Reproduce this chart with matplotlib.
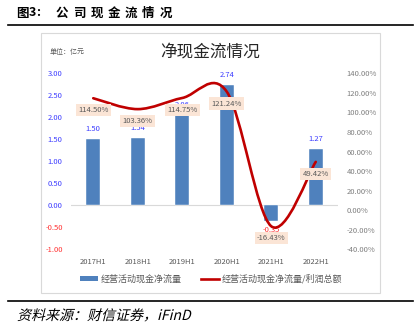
import matplotlib
matplotlib.use("Agg")
import matplotlib.pyplot as plt
from matplotlib.path import Path
from matplotlib.patches import PathPatch, Rectangle, Patch
from matplotlib.lines import Line2D
from matplotlib.textpath import TextPath
from matplotlib.font_manager import FontProperties
from matplotlib.transforms import Affine2D, IdentityTransform

plt.rcParams["font.family"] = ["Noto Sans CJK SC", "DejaVu Sans"]

periods = ["2017H1", "2018H1", "2019H1", "2020H1", "2021H1", "2022H1"]
cash_flow = [1.50, 1.54, 2.06, 2.74, -0.35, 1.27]          # 亿元
ratio_pct = [114.50, 103.36, 114.75, 121.24, -16.43, 49.42]  # %
left_ticks = [-1.0, -0.5, 0.0, 0.5, 1.0, 1.5, 2.0, 2.5, 3.0]
right_ticks = [-40, -20, 0, 20, 40, 60, 80, 100, 120, 140]

W, H = 418, 336
fig = plt.figure(figsize=(W / 100, H / 100), dpi=100)
fig.patch.set_facecolor("white")

# page title with wide letter spacing
for ch, x in zip(["图", "3", ":"], [22.5, 32.5, 38.5]):
    fig.text(x / W, 1 - 13 / H, ch, ha="center", va="center", fontsize=9,
             fontweight="bold", color="black")
for i, ch in enumerate("公司现金流情况"):
    fig.text((62 + i * 17.3) / W, 1 - 13 / H, ch, ha="center", va="center",
             fontsize=9, fontweight="bold", color="black")
fig.add_artist(Line2D([8 / W, 413 / W], [1 - 25 / H, 1 - 25 / H],
                      transform=fig.transFigure, color="black", lw=1.2))
fig.add_artist(Line2D([8 / W, 413 / W], [1 - 300.5 / H, 1 - 300.5 / H],
                      transform=fig.transFigure, color="black", lw=1.2))

# source note, slanted
tp = TextPath((0, 0), "资料来源：财信证券，iFinD", size=14,
              prop=FontProperties(family="Noto Sans CJK SC"))
tr = Affine2D().skew_deg(14, 0).translate(17, H - 320)
fig.add_artist(PathPatch(tr.transform_path(tp), transform=IdentityTransform(),
                         facecolor="black", edgecolor="none"))

# chart frame
fig.add_artist(Rectangle((40.7 / W, 1 - 293 / H), (380 - 40.7) / W, (293 - 33) / H,
                         transform=fig.transFigure, fill=False,
                         edgecolor="#D9D9D9", lw=0.8))
fig.text(210 / W, 1 - 52 / H, "净现金流情况", ha="center", va="center",
         fontsize=12, color="#262626")
fig.text(50 / W, 1 - 52 / H, "单位：亿元", ha="left", va="center",
         fontsize=5, color="#595959")

ax = fig.add_axes([71 / W, 1 - 249.3 / H, (338 - 71) / W, (249.3 - 73.3) / H])
ax2 = ax.twinx()
for a in (ax, ax2):
    for s in a.spines.values():
        s.set_visible(False)

x = list(range(len(periods)))
ax.bar(x, cash_flow, width=0.32, color="#4F81BD", edgecolor="white", lw=0.3, zorder=2)
ax.axhline(0, color="#D9D9D9", lw=0.8, zorder=1)
ax.set_xlim(-0.5, len(periods) - 0.5)
ax.set_ylim(-1, 3)
ax.set_yticks(left_ticks)
ax.set_yticklabels([f"{t:.2f}" for t in left_ticks], fontsize=5.5)
for lab, t in zip(ax.get_yticklabels(), left_ticks):
    lab.set_color("#FF3333" if t < 0 else "#3D3DFF")
ax.set_xticks(x)
ax.set_xticklabels(periods, fontsize=5.5, color="#595959")
ax.tick_params(length=0, pad=6)
ax.tick_params(axis="x", pad=6)

for i, v in enumerate(cash_flow):
    off = 7.2 if v >= 0 else -6.5
    ax.annotate(f"{v:.2f}", (i, v), xytext=(0, off), textcoords="offset points",
                ha="center", va="center", fontsize=5.5,
                color="#3D3DFF" if v >= 0 else "#FF3333", zorder=3)

ax2.set_ylim(-40, 140)
ax2.set_yticks(right_ticks)
ax2.set_yticklabels([f"{t:.2f}%" for t in right_ticks], fontsize=5.5, color="#7F7F7F")
ax2.tick_params(length=0, pad=6)

# smoothed line (Catmull-Rom as cubic Bezier segments)
pts = list(zip(x, ratio_pct))
verts = [pts[0]]
codes = [Path.MOVETO]
for k in range(len(pts) - 1):
    p0 = pts[k - 1] if k > 0 else pts[k]
    p1, p2 = pts[k], pts[k + 1]
    p3 = pts[k + 2] if k + 2 < len(pts) else pts[k + 1]
    c1 = (p1[0] + (p2[0] - p0[0]) / 6, p1[1] + (p2[1] - p0[1]) / 6)
    c2 = (p2[0] - (p3[0] - p1[0]) / 6, p2[1] - (p3[1] - p1[1]) / 6)
    verts += [c1, c2, p2]
    codes += [Path.CURVE4] * 3
ax2.add_patch(PathPatch(Path(verts, codes), facecolor="none", edgecolor="#C00000",
                        lw=1.9, zorder=4, capstyle="round"))

for i, v in enumerate(ratio_pct):
    ax2.annotate(f"{v:.2f}%", (i, v), xytext=(0, -8.6), textcoords="offset points",
                 ha="center", va="center", fontsize=5.5, color="#595959", zorder=5,
                 bbox=dict(boxstyle="square,pad=0.3", facecolor="#FBE5D6",
                           edgecolor="none"))

handles = [Patch(facecolor="#4F81BD", edgecolor="none"),
           Line2D([0], [0], color="#C00000", lw=1.9)]
fig.legend(handles, ["经营活动现金净流量", "经营活动现金净流量/利润总额"],
           loc="center", bbox_to_anchor=(211 / W, 1 - 279 / H), ncol=2,
           frameon=False, fontsize=6.5, labelcolor="#595959",
           handlelength=2.0, handleheight=0.5, handletextpad=0.3,
           columnspacing=2.2)

fig.savefig("out.png", dpi=100)
